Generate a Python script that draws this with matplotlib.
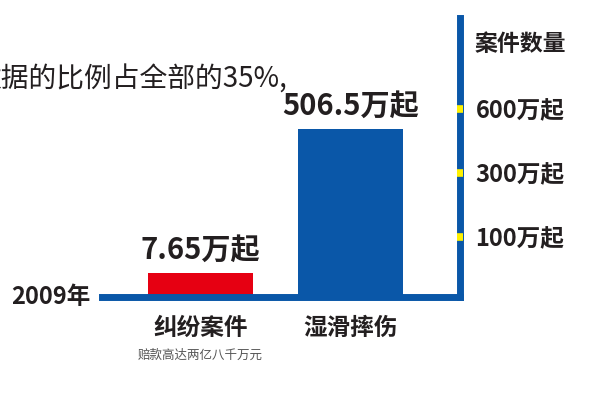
import numpy as np
import matplotlib
matplotlib.use("Agg")
import matplotlib.pyplot as plt

plt.rcParams["font.family"] = ["Noto Sans CJK SC", "DejaVu Sans"]

# data
categories = ["纠纷案件", "湿滑摔伤"]
cases = [7.65, 506.5]              # 万起
bar_colors = ["#e60012", "#0a57a8"]
notes = ["赔款高达两亿八千万元", ""]
tick_values = [100, 300, 600]
year_label = "2009年"
axis_title = "案件数量"
intro_text = "数据的比例占全部的35%,"

BLUE = "#0a57a8"
YELLOW = "#fff100"
INK = "#231f20"

# the chart's value axis is illustrative, not linear: piecewise mapping
_knots_v = np.array([0, 10, 100, 300, 600, 1100])
_knots_h = np.array([0, 31, 60, 124, 188, 295])


def _fwd(v):
    return np.interp(v, _knots_v, _knots_h)


def _inv(h):
    return np.interp(h, _knots_h, _knots_v)


fig = plt.figure(figsize=(5.94, 3.93), dpi=100)
W, H = 594, 393
left, right, top, bottom = 101.5, 459.5, 18, 297
ax = fig.add_axes([left / W, 1 - bottom / H, (right - left) / W, (bottom - top) / H])
ax.set_yscale("function", functions=(_fwd, _inv))

x = np.arange(len(categories))
ax.bar(x, cases, width=0.7, color=bar_colors, zorder=1)

ax.set_xlim(-0.66, 1.727)
ax.set_ylim(0, _inv(bottom - top))

for s in ("top", "left"):
    ax.spines[s].set_visible(False)
for s in ("bottom", "right"):
    ax.spines[s].set_color(BLUE)
    ax.spines[s].set_linewidth(5)
    ax.spines[s].set_zorder(3)
ax.yaxis.set_zorder(4)

ax.set_xticks([])
ax.yaxis.tick_right()
ax.set_yticks(tick_values)
ax.set_yticklabels([f"{v}万起" for v in tick_values])
ax.yaxis.set_minor_locator(plt.NullLocator())
ax.tick_params(axis="y", direction="inout", length=5, width=5.5, color=YELLOW,
               pad=9, labelsize=17, labelcolor=INK)
for lab in ax.get_yticklabels():
    lab.set_fontweight("bold")
ax.patch.set_alpha(0)

# value labels over the bars
for xi, v in zip(x, cases):
    ax.annotate(f"{v:g}万起", (xi, v), xytext=(0, 6), textcoords="offset points",
                ha="center", va="bottom", fontsize=21, fontweight="bold", color=INK)

# category labels and notes under the baseline
for xi, name, note in zip(x, categories, notes):
    ax.annotate(name, (xi, 0), xytext=(0, -22), textcoords="offset points",
                ha="center", va="center", fontsize=17, fontweight="bold", color=INK,
                annotation_clip=False)
    if note:
        ax.annotate(note, (xi, 0), xytext=(0, -42), textcoords="offset points",
                    ha="center", va="center", fontsize=9, color="#555555",
                    annotation_clip=False)

ax.annotate(year_label, (0, 0), xycoords=("axes fraction", "data"),
            xytext=(-8, 0), textcoords="offset points", ha="right", va="center",
            fontsize=17, fontweight="bold", color=INK, annotation_clip=False)

ax.annotate(axis_title, (1, 1), xycoords="axes fraction", xytext=(11, -19),
            textcoords="offset points", ha="left", va="center",
            fontsize=16.5, fontweight="bold", color=INK, annotation_clip=False)

fig.text(-26 / W, 1 - 80 / H, intro_text, ha="left", va="center",
         fontsize=20, color=INK)

fig.savefig("out.png", dpi=100, facecolor="white")
